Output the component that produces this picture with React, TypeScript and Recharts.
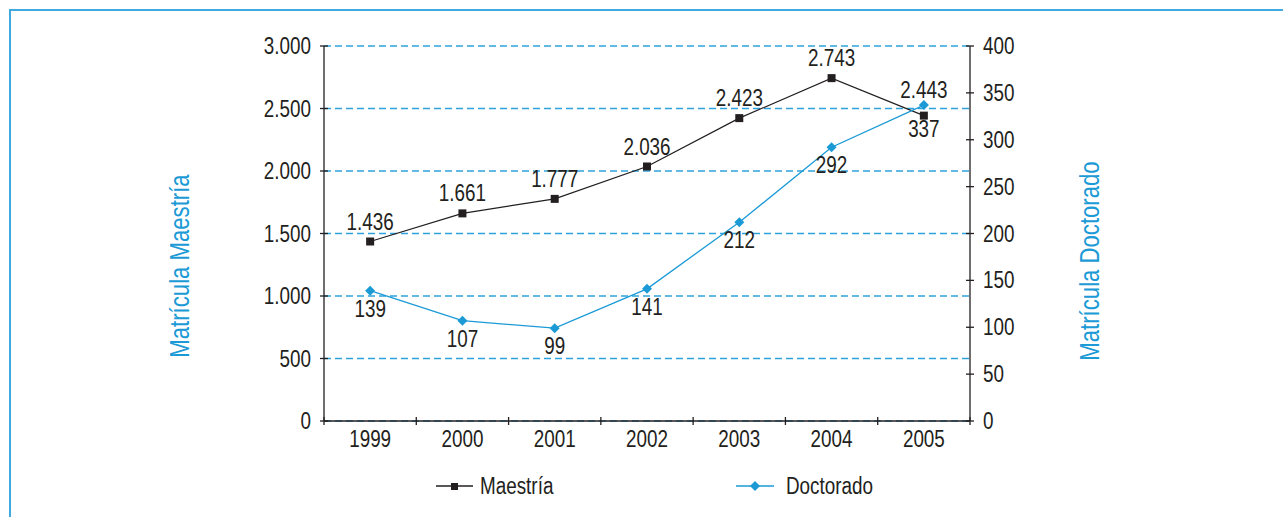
import React from 'react';
import {
  CartesianGrid,
  LabelList,
  Line,
  LineChart,
  XAxis,
  YAxis,
} from 'recharts';

const years = ['1999', '2000', '2001', '2002', '2003', '2004', '2005'];
const maestria = [1436, 1661, 1777, 2036, 2423, 2743, 2443];
const doctorado = [139, 107, 99, 141, 212, 292, 337];

const leftTicks = [0, 500, 1000, 1500, 2000, 2500, 3000];
const rightTicks = [0, 50, 100, 150, 200, 250, 300, 350, 400];
const xTicks = [-0.5, 0, 0.5, 1, 1.5, 2, 2.5, 3, 3.5, 4, 4.5, 5, 5.5, 6, 6.5];

const data = years.map((year, i) => ({
  x: i,
  year,
  maestria: maestria[i],
  doctorado: doctorado[i],
}));

// no narrow font installed, so squeeze Liberation Sans horizontally
const FONT = "'Liberation Sans', Arial, sans-serif";
const SQUEEZE = 0.82;
const INK = '#231f20';
const BLUE = '#1b9ad6';
const GRID = '#2ea2dc';

const fmt = (v: number) => String(v).replace(/\B(?=(\d{3})+(?!\d))/g, '.');

const NText = ({ x, y, anchor, dy, children }: any) => (
  <text
    transform={`translate(${x},${y}) scale(${SQUEEZE},1)`}
    dy={dy}
    textAnchor={anchor}
    fill={INK}
    fontSize={23}
    fontFamily={FONT}
  >
    {children}
  </text>
);

const LeftTick = ({ x, y, payload }: any) => (
  <g>
    <line x1={x - 4} x2={x + 4} y1={y} y2={y} stroke={INK} strokeWidth={1.3} />
    <NText x={x - 13} y={y} dy="0.35em" anchor="end">
      {fmt(payload.value)}
    </NText>
  </g>
);

const RightTick = ({ x, y, payload }: any) => (
  <g>
    <line x1={x - 4} x2={x + 4} y1={y} y2={y} stroke={INK} strokeWidth={1.3} />
    <NText x={x + 13} y={y} dy="0.35em" anchor="start">
      {payload.value}
    </NText>
  </g>
);

const BottomTick = ({ x, y, payload }: any) => {
  const v = payload.value;
  if (Number.isInteger(v)) {
    return (
      <NText x={x} y={y + 26} anchor="middle">
        {years[v]}
      </NText>
    );
  }
  return <line x1={x} x2={x} y1={y - 4} y2={y + 4} stroke={INK} strokeWidth={1.3} />;
};

const SquareDot = ({ cx, cy }: any) => (
  <rect x={cx - 4} y={cy - 4} width={8} height={8} fill={INK} />
);

const DiamondDot = ({ cx, cy }: any) => (
  <path d={`M${cx},${cy - 5}L${cx + 5},${cy}L${cx},${cy + 5}L${cx - 5},${cy}Z`} fill={BLUE} />
);

const TopLabel = ({ x, y, value, index }: any) => (
  <NText x={x} y={y - (index === 6 ? 18 : 12)} anchor="middle">
    {fmt(value)}
  </NText>
);

const BottomLabel = ({ x, y, value, index }: any) => (
  <NText x={x} y={y + (index === 6 ? 32 : 26)} anchor="middle">
    {value}
  </NText>
);

const titleStyle: React.CSSProperties = {
  position: 'absolute',
  color: BLUE,
  fontFamily: FONT,
  fontSize: 27,
  whiteSpace: 'nowrap',
  transform: `translate(-50%, -50%) rotate(-90deg) scaleX(${SQUEEZE})`,
  lineHeight: 1,
};

const legendText: React.CSSProperties = {
  position: 'absolute',
  color: INK,
  fontFamily: FONT,
  fontSize: 23,
  lineHeight: 1,
  top: 486,
  transform: `translateY(-50%) scaleX(${SQUEEZE})`,
  transformOrigin: 'left center',
  whiteSpace: 'nowrap',
};

export default function App() {
  return (
    <div
      style={{
        position: 'fixed',
        left: 0,
        top: 0,
        width: 1283,
        height: 517,
        overflow: 'hidden',
        background: '#fff',
      }}
    >
      <div
        style={{
          position: 'absolute',
          left: 9,
          top: 9,
          width: 1400,
          height: 700,
          borderTop: '2px solid #3fa9e0',
          borderLeft: '2px solid #3fa9e0',
        }}
      />
      <div style={{ position: 'absolute', left: 0, top: 0 }}>
        <LineChart
          width={1283}
          height={517}
          data={data}
          margin={{ top: 46, left: 224, right: 213, bottom: 56 }}
        >
          <CartesianGrid
            horizontal
            vertical={false}
            yAxisId="left"
            xAxisId="x"
            stroke={GRID}
            strokeWidth={1.3}
            strokeDasharray="7 4"
          />
          <XAxis
            xAxisId="x"
            dataKey="x"
            type="number"
            domain={[-0.5, 6.5]}
            ticks={xTicks}
            interval={0}
            height={40}
            tickSize={0}
            tickMargin={0}
            tickLine={false}
            axisLine={{ stroke: INK, strokeWidth: 1.3 }}
            tick={<BottomTick />}
          />
          <YAxis
            yAxisId="left"
            orientation="left"
            domain={[0, 3000]}
            ticks={leftTicks}
            interval={0}
            width={100}
            tickSize={0}
            tickMargin={0}
            tickLine={false}
            axisLine={{ stroke: INK, strokeWidth: 1.3 }}
            tick={<LeftTick />}
          />
          <YAxis
            yAxisId="right"
            orientation="right"
            domain={[0, 400]}
            ticks={rightTicks}
            interval={0}
            width={100}
            tickSize={0}
            tickMargin={0}
            tickLine={false}
            axisLine={{ stroke: INK, strokeWidth: 1.3 }}
            tick={<RightTick />}
          />
          <Line
            xAxisId="x"
            yAxisId="left"
            dataKey="maestria"
            stroke={INK}
            strokeWidth={1.2}
            dot={<SquareDot />}
            activeDot={false}
            isAnimationActive={false}
          >
            <LabelList dataKey="maestria" content={<TopLabel />} />
          </Line>
          <Line
            xAxisId="x"
            yAxisId="right"
            dataKey="doctorado"
            stroke={BLUE}
            strokeWidth={1.3}
            dot={<DiamondDot />}
            activeDot={false}
            isAnimationActive={false}
          >
            <LabelList dataKey="doctorado" content={<BottomLabel />} />
          </Line>
        </LineChart>
      </div>

      <div style={{ ...titleStyle, left: 180, top: 266 }}>Matrícula Maestría</div>
      <div style={{ ...titleStyle, left: 1090, top: 261 }}>Matrícula Doctorado</div>

      <svg style={{ position: 'absolute', left: 0, top: 0 }} width={1283} height={517} pointerEvents="none">
        <line x1={436} x2={473} y1={486} y2={486} stroke={INK} strokeWidth={1.3} />
        <rect x={451} y={483} width={7} height={7} fill={INK} />
        <line x1={736} x2={774} y1={486} y2={486} stroke={BLUE} strokeWidth={1.3} />
        <path d="M755,481L760,486L755,491L750,486Z" fill={BLUE} />
      </svg>
      <div style={{ ...legendText, left: 480 }}>Maestría</div>
      <div style={{ ...legendText, left: 786 }}>Doctorado</div>
    </div>
  );
}
